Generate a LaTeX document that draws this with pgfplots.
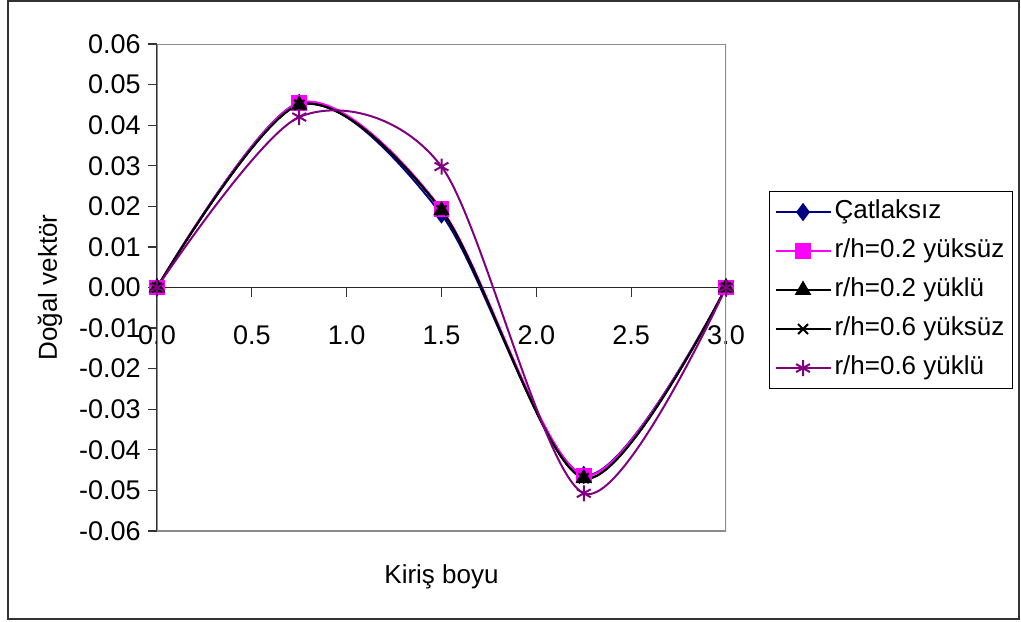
\documentclass[border=0pt]{standalone}
\usepackage{pgfplots}
\pgfplotsset{compat=1.18}
\usepackage{fontspec}
\setmainfont{Liberation Sans}
\definecolor{exnavy}{RGB}{0,0,128}
\definecolor{exmag}{RGB}{255,0,255}
\definecolor{expurple}{RGB}{128,0,128}
\begin{document}
\fontsize{13}{15}\selectfont
\begin{tikzpicture}
\path (-78.5pt,-45pt) rectangle (432pt,265.5pt);
\begin{axis}[
  at={(0,0)}, anchor=south west,
  scale only axis, width=284.5pt, height=243.5pt,
  xmin=0, xmax=3, ymin=-0.06, ymax=0.06,
  axis x line=middle, axis y line=left,
  axis line style={-, line width=0.6pt, black!85},
  hide obscured x ticks=false, hide obscured y ticks=false,
  tick align=outside, major tick length=4.5pt,
  tick style={line width=0.6pt, black!80},
  xtick={0,0.5,1,1.5,2,2.5,3},
  ytick={-0.06,-0.05,-0.04,-0.03,-0.02,-0.01,0,0.01,0.02,0.03,0.04,0.05,0.06},
  scaled y ticks=false, scaled x ticks=false,
  font=\fontsize{13}{15}\selectfont,
  ticklabel style={font=\fontsize{13.5}{15}\selectfont},
  /pgf/number format/assume math mode=true,
  yticklabel style={/pgf/number format/.cd, fixed, fixed zerofill, precision=2, /tikz/.cd, inner xsep=3.5pt},
  xticklabel style={/pgf/number format/.cd, fixed, fixed zerofill, precision=1, /tikz/.cd, anchor=north, yshift=-10pt},
  xlabel={Kiriş boyu},
  ylabel={Doğal vektör},
  xlabel style={at={(axis description cs:0.5,-0.0945)}, anchor=center},
  ylabel style={at={(axis description cs:-0.1880,0.5)}, anchor=center},
  legend style={at={(axis description cs:1.0756,0.698)}, anchor=north west,
    draw=black, line width=0.5pt, inner xsep=2.5pt, inner ysep=2pt, row sep=3pt,
    font=\fontsize{13}{15}\selectfont,
    nodes={inner xsep=1.5pt, inner ysep=2.5pt, text height=9pt, text depth=2.5pt, anchor=west}},
  legend cell align=left,
  legend image code/.code={\draw[#1, mark repeat=2, mark phase=2] plot coordinates {(0pt,0pt) (13.75pt,0pt) (27.5pt,0pt)};},
]
\draw[black!45, line width=0.75pt] (rel axis cs:0,0) rectangle (rel axis cs:1,1);
\addplot[exnavy, line width=1pt, smooth, mark=diamond*, mark size=3.8pt, mark options={solid, fill=exnavy}]
  coordinates {(0,0) (0.75,0.0455) (1.5,0.0180) (2.25,-0.0462) (3,0)};
\addlegendentry{Çatlaksız}
\addplot[exmag, line width=1pt, smooth, mark=square*, mark size=3.4pt, mark options={solid, fill=exmag}]
  coordinates {(0,0) (0.75,0.0455) (1.5,0.0193) (2.25,-0.0463) (3,0)};
\addlegendentry{r/h=0.2 yüksüz}
\addplot[black, line width=1pt, smooth, mark=triangle*, mark size=3.8pt, mark options={solid, fill=black}]
  coordinates {(0,0) (0.75,0.0450) (1.5,0.0190) (2.25,-0.0470) (3,0)};
\addlegendentry{r/h=0.2 yüklü}
\addplot[black, line width=1pt, smooth, mark=x, mark size=3.5pt, mark options={solid, line width=1pt}]
  coordinates {(0,0) (0.75,0.0450) (1.5,0.0190) (2.25,-0.0470) (3,0)};
\addlegendentry{r/h=0.6 yüksüz}
\addplot[expurple, line width=1pt, smooth, mark=asterisk, mark size=4pt, mark options={solid, line width=1pt}]
  coordinates {(0,0) (0.75,0.0420) (1.5,0.0298) (2.25,-0.0507) (3,0)};
\addlegendentry{r/h=0.6 yüklü}
\end{axis}
\draw[black!80, line width=0.75pt] (-74.5pt,-44pt) rectangle (431pt,265pt);
\end{tikzpicture}
\end{document}
